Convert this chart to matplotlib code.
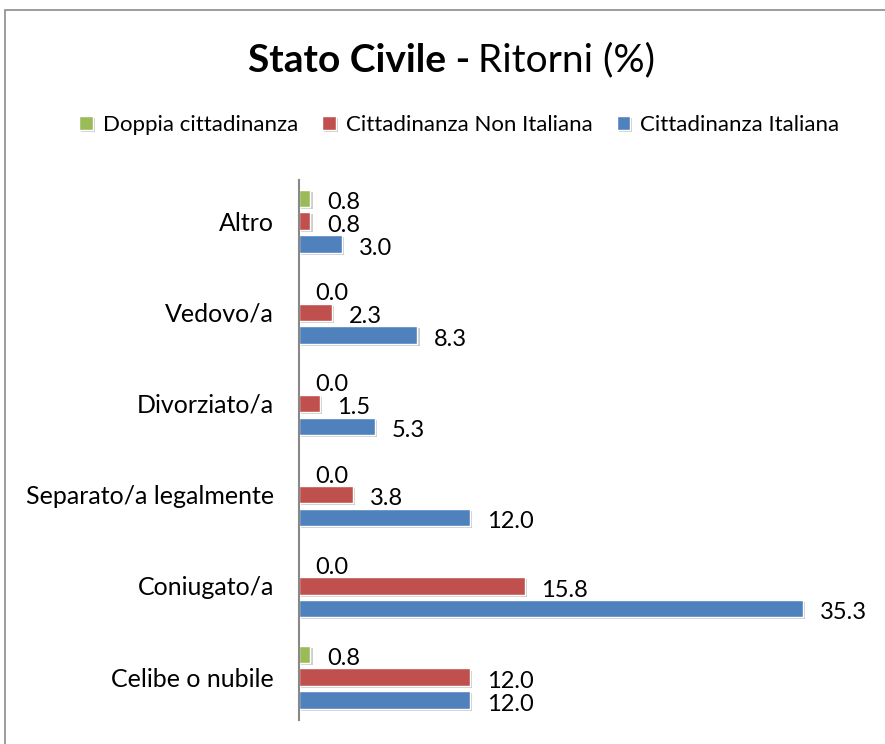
import matplotlib
matplotlib.use("Agg")
import matplotlib.pyplot as plt
import matplotlib.patheffects as pe
from matplotlib.patches import Rectangle
import numpy as np

# dati (dal basso verso l'alto)
categorie = ["Celibe o nubile", "Coniugato/a", "Separato/a legalmente",
             "Divorziato/a", "Vedovo/a", "Altro"]
italiana = [12.0, 35.3, 12.0, 5.3, 8.3, 3.0]
non_italiana = [12.0, 15.8, 3.8, 1.5, 2.3, 0.8]
doppia = [0.8, 0.0, 0.0, 0.0, 0.0, 0.8]

serie = [
    ("Cittadinanza Italiana", italiana, "#4F81BD", -0.25),
    ("Cittadinanza Non Italiana", non_italiana, "#C0504D", 0.0),
    ("Doppia cittadinanza", doppia, "#9BBB59", 0.25),
]

plt.rcParams['font.family'] = ['Lato', 'DejaVu Sans']

fig = plt.figure(figsize=(8.85, 7.44), dpi=100)
W, H = 885, 744

# cornice grigia
fig.patches.append(Rectangle((5 / W, -0.1), 1.2, 1 - 10 / H + 0.1,
                             transform=fig.transFigure, fill=False,
                             edgecolor="#8c8c8c", linewidth=1.2))

ax = fig.add_axes([299 / W, 1 - 720 / H, 571 / W, 540 / H])
y = np.arange(len(categorie))

ombra = [pe.SimplePatchShadow(offset=(1.5, -1.5), shadow_rgbFace="#909090", alpha=0.45), pe.Normal()]
handles = {}
for nome, valori, colore, off in serie:
    bars = ax.barh(y + off, valori, height=0.19, color=colore,
                   edgecolor="white", linewidth=1.0, label=nome)
    for b in bars:
        b.set_path_effects(ombra)
    handles[nome] = bars
    for yi, v in zip(y + off, valori):
        ax.annotate(f"{v:.1f}", (v, yi), xytext=(12, -3), textcoords="offset points",
                    ha="left", va="center", fontsize=17, color="black")

ax.set_xlim(0, 40)
ax.set_ylim(-0.47, 5.45)
ax.set_yticks(y)
ax.set_yticklabels(categorie, fontsize=18)
ax.tick_params(axis="y", length=0, pad=18)
ax.set_xticks([])
for s in ["top", "right", "bottom"]:
    ax.spines[s].set_visible(False)
ax.spines["left"].set_color("#888888")
ax.spines["left"].set_linewidth(1.5)

# titolo
fig.text(470 / W, 1 - 60 / H, "Stato Civile -", ha="right", va="center",
         fontsize=28, fontweight="bold")
fig.text(478 / W, 1 - 60 / H, "Ritorni (%)", ha="left", va="center", fontsize=28)

# legenda
ordine = ["Doppia cittadinanza", "Cittadinanza Non Italiana", "Cittadinanza Italiana"]
fig.legend([handles[n] for n in ordine], ordine, loc="center",
           bbox_to_anchor=(0.519, 1 - 125 / H), ncol=3, frameon=False,
           fontsize=16, handlelength=0.6, handleheight=0.6,
           handletextpad=0.45, columnspacing=1.1)

fig.savefig("out.png", dpi=100)
